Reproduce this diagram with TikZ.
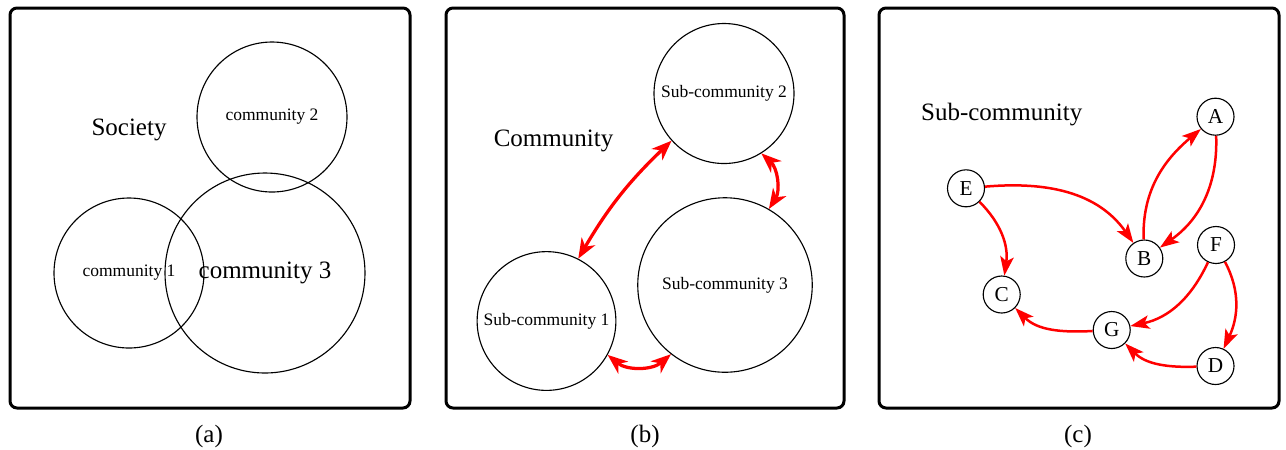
\documentclass[tikz,border=0pt]{standalone}
\usepackage{fontspec}
\setmainfont{Liberation Serif}
\usetikzlibrary{arrows.meta}
\tikzset{
    every node/.style={inner sep=0pt},
    panel/.style={draw, line width=1.2pt, rounded corners=2.8pt},
    blob/.style={circle, draw, line width=0.45pt, font=\fontsize{7}{8}\selectfont},
    member/.style={circle, draw, line width=0.45pt, minimum size=14.8pt,
    	font=\fontsize{8.5}{10}\selectfont},
    title/.style={font=\fontsize{10}{12}\selectfont}
}
\tikzset{
    link/.style={red, line width=1.3pt,
    	{Stealth[length=8pt,width=6.2pt,inset=2.4pt]}-{Stealth[length=8pt,width=6.2pt,inset=2.4pt]}},
    tie/.style={red, line width=1pt, -{Stealth[length=7.6pt,width=5.4pt,inset=1.8pt]}}
}

\begin{document}
\begin{tikzpicture}[x=0.4pt, y=0.4pt]
	\useasboundingbox (0,0) rectangle (1286,-449);
	\draw[panel] (10,-8) rectangle (410,-408);
	\draw[panel] (446,-8) rectangle (844,-408);
	\draw[panel] (879,-8) rectangle (1279,-408);
	
	\node (society) [title] at (129,-130) {Society};
	\node (c2) [blob, minimum size=60pt] at (272,-117) {community 2};
	\node (c1) [blob, minimum size=60pt] at (129,-273) {community 1};
	\node (c3) [blob, minimum size=80pt, font=\fontsize{10}{12}\selectfont] at (265,-273) {community 3};
	
	\node (community) [title] at (553.5,-141) {Community};
	\node (s2) [blob, minimum size=56pt] at (724,-93.5) {Sub-community 2};
	\node (s1) [blob, minimum size=55.5pt] at (546.5,-321) {Sub-community 1};
	\node (s3) [blob, minimum size=69.8pt] at (725,-285) {Sub-community 3};
	
	\draw (s1.63) edge [link, bend left=8] (s2.222);
	\draw (s2.-58) edge [link, bend left=40] (s3.60);
	\draw (s1.-29) edge [link, bend right=40] (s3.-128);
	
	\node (subcommunity) [title] at (1001.7,-115) {Sub-community};
	\node (A) [member] at (1215.5,-116.7) {A};
	\node (E) [member] at (966,-188.3) {E};
	\node (B) [member] at (1144.3,-258.5) {B};
	\node (F) [member] at (1216,-245) {F};
	\node (C) [member] at (1001.7,-294.5) {C};
	\node (G) [member] at (1111.7,-330) {G};
	\node (D) [member] at (1215.5,-366) {D};
	
	\draw (E) edge [tie, out=5, in=125] (B); \draw (E) edge [tie, out=-45, in=82] (C);
	\draw (B) edge [tie, out=92, in=220] (A); \draw (A) edge [tie, out=-88, in=35] (B);
	\draw (F) edge [tie, out=-115, in=12] (G); \draw (F) edge [tie, out=-62, in=65] (D);
	\draw (D) edge [tie, out=182, in=-45] (G); \draw (G) edge [tie, out=183, in=-45] (C);
	
	\node (capa) [title] at (209,-436) {(a)};
	\node (capb) [title] at (645,-436) {(b)};
	\node (capc) [title] at (1078,-436) {(c)};
\end{tikzpicture}
\end{document}
